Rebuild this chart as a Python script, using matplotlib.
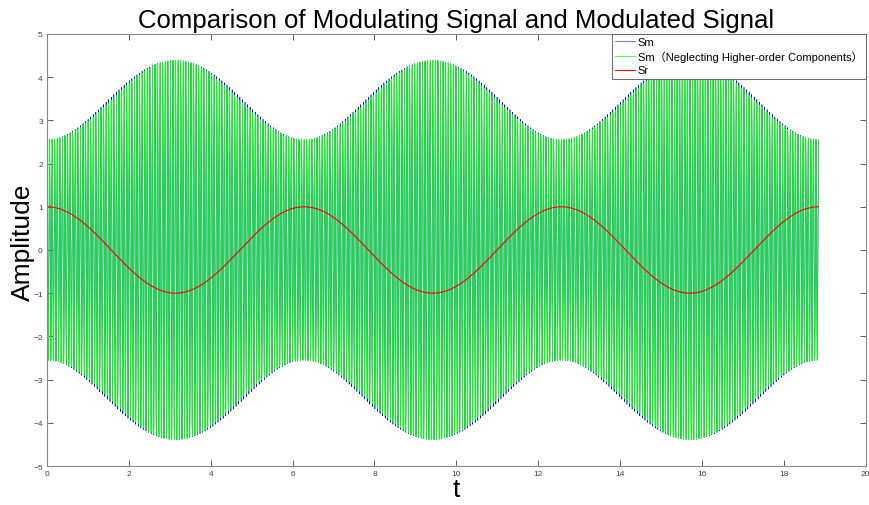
import numpy as np
import matplotlib.pyplot as plt

plt.rcParams['font.family'] = ['Liberation Sans', 'Noto Sans CJK SC', 'DejaVu Sans']

# signal parameters
t_end = 6 * np.pi          # three periods of the modulating signal
carrier_w = 100.0          # carrier angular frequency
env_mean = 3.47            # mean envelope of the modulated signal
env_dev = 0.92             # envelope swing (2.55 .. 4.39)
higher_order = 0.07        # extra amplitude of the full Sm on the slopes
sr_amp = 1.0

t = np.linspace(0, t_end, 30000)
sr = sr_amp * np.cos(t)
env_green = env_mean - env_dev * np.cos(t)
env_blue = env_green + higher_order * np.sin(t) ** 2
sm_green = env_green * np.cos(carrier_w * t)
sm_blue = env_blue * np.cos(carrier_w * t)

fig = plt.figure(figsize=(8.7, 5.06), dpi=100)
ax = fig.add_axes([0.054, 0.077, 0.941, 0.854])

ax.plot(t, sm_blue, color='#0000ff', lw=0.4, label='Sm')
ax.plot(t, sm_green, color='#00ff00', lw=0.5, label='Sm\uff08Neglecting Higher-order Components\uff09')
ax.plot(t, sr, color='#ff0000', lw=0.8, label='Sr')

ax.set_xlim(0, 20)
ax.set_ylim(-5, 5)
ax.set_xticks(np.arange(0, 21, 2))
ax.set_yticks(np.arange(-5, 6, 1))
ax.tick_params(direction='in', top=True, right=True, labelsize=6, colors='#444444',
               length=4, width=0.6, pad=3)
for s in ax.spines.values():
    s.set_color('#888888')
    s.set_linewidth(0.8)

ax.set_title('Comparison of Modulating Signal and Modulated Signal', fontsize=18.5, pad=5)
ax.set_xlabel('t', fontsize=19, labelpad=0)
ax.set_ylabel('Amplitude', fontsize=19)
ax.yaxis.set_label_coords(-0.015, 0.52)

leg = ax.legend(loc='upper right', frameon=True, fancybox=False,
                borderpad=0.3, handlelength=1.8, handletextpad=0.2, labelspacing=0.3,
                borderaxespad=0, edgecolor='#555555', framealpha=1, fontsize=8)
leg.get_frame().set_linewidth(0.6)

fig.savefig('out.png', dpi=100)
